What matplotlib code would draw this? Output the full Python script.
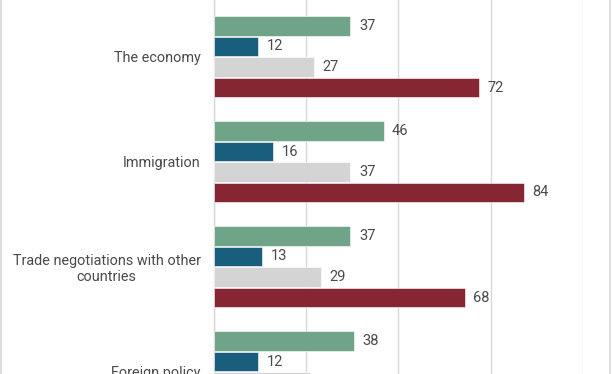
import matplotlib
matplotlib.use("Agg")
import matplotlib.pyplot as plt
from matplotlib.lines import Line2D
import numpy as np

plt.rcParams['font.family'] = ['Roboto', 'DejaVu Sans']

categories = ["The economy", "Immigration", "Trade negotiations with other\ncountries", "Foreign policy"]
series_a = [37, 46, 37, 38]   # green
series_b = [12, 16, 13, 12]   # blue
series_c = [27, 37, 29, 26]   # light gray
series_d = [72, 84, 68, 60]   # dark red
colors = ["#70a489", "#195e7d", "#d4d4d4", "#862633"]
xticks = [0, 25, 50, 75, 100]

W, H = 612, 374
fig = plt.figure(figsize=(W / 100, H / 100), dpi=100)
ax = fig.add_axes([214 / W, 0, (582.7 - 214) / W, 1])

bh = 20.5 / 105
offsets = np.array([-1.5, -0.5, 0.5, 1.5]) * bh
y = np.arange(len(categories))
txt = "#4a4a4a"
fs = 10.5
for series, off, col in zip([series_a, series_b, series_c, series_d], offsets, colors):
    bars = ax.barh(y + off, series, height=bh * 0.97, color=col, edgecolor="white", linewidth=0.4, zorder=3)
    for b, v in zip(bars, series):
        ax.text(b.get_width() + 2.3, b.get_y() + b.get_height() / 2, f"{v}",
                va="center", ha="left", fontsize=fs, color=txt, zorder=4)

ax.set_xlim(0, 100)
ax.set_ylim((374 - 56.75) / 105, (0 - 56.75) / 105)
ax.set_xticks(xticks)
ax.xaxis.grid(True, color="#d9d9d9", linewidth=1)
ax.set_axisbelow(True)
ax.tick_params(axis="x", length=0, labelbottom=False)
ax.set_yticks(y)
ax.set_yticklabels(categories, fontsize=10.35, color=txt, ha="right", multialignment="center")
ax.tick_params(axis="y", length=0, pad=9.5)
for s in ["top", "right", "bottom"]:
    ax.spines[s].set_visible(False)
ax.spines["left"].set_color("#d9d9d9")
ax.spines["left"].set_linewidth(1)

fig.add_artist(Line2D([0.8 / W, 0.8 / W], [0, 1], color="#d9d9d9", lw=1.2, transform=fig.transFigure))
fig.add_artist(Line2D([609.5 / W, 609.5 / W], [0, 1], color="#d9d9d9", lw=1.2, transform=fig.transFigure))

fig.savefig("out.png", dpi=100, facecolor="white")
